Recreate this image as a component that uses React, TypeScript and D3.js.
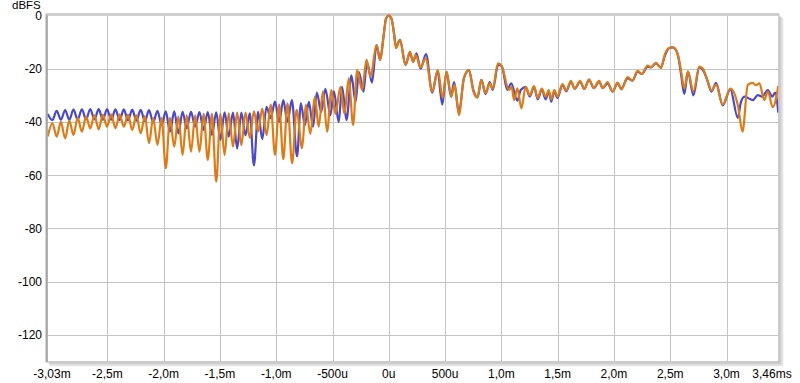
import React from 'react';
import * as d3 from 'd3';

const W = 800;
const H = 383;

const xTickValues = [-3.03, -2.5, -2.0, -1.5, -1.0, -0.5, 0, 0.5, 1.0, 1.5, 2.0, 2.5, 3.0, 3.46];
const xTickLabels = ['-3,03m', '-2,5m', '-2,0m', '-1,5m', '-1,0m', '-500u', '0u', '500u', '1,0m', '1,5m', '2,0m', '2,5m', '3,0m', '3,46ms'];
const yTickValues = [0, -20, -40, -60, -80, -100, -120];
const yTickLabels = ['0', '-20', '-40', '-60', '-80', '-100', '-120'];

// shared time grid (ms) of the regular ripple on the left side
const gridTimes = [
  -3.030, -2.988, -2.950, -2.913, -2.875, -2.838, -2.801, -2.764, -2.726, -2.689,
  -2.652, -2.615, -2.577, -2.540, -2.503, -2.466, -2.428, -2.391, -2.354, -2.317,
  -2.279, -2.242, -2.204, -2.167, -2.130, -2.093, -2.055, -2.018, -1.981, -1.944,
  -1.906, -1.869, -1.832, -1.795, -1.757, -1.720, -1.682, -1.645, -1.608, -1.571,
  -1.533, -1.496, -1.459, -1.422, -1.384, -1.347, -1.310, -1.273, -1.235, -1.198,
  -1.161, -1.124, -1.086, -1.049, -1.011, -0.974, -0.937, -0.900,
];

const blueGridDb = [
  -37.0, -39.3, -35.8, -39.2, -35.6, -39.2, -35.4, -39.1, -35.3, -39.1,
  -35.2, -39.1, -35.2, -39.2, -35.2, -39.2, -35.3, -39.3, -35.3, -39.4,
  -35.4, -39.5, -35.5, -39.7, -35.6, -40.2, -35.8, -41.2, -36.0, -43.7,
  -36.0, -44.3, -36.2, -42.4, -36.2, -41.8, -36.3, -43.0, -36.3, -44.9,
  -36.4, -46.8, -36.4, -45.5, -36.5, -50.0, -36.5, -45.0, -36.8, -56.4,
  -36.2, -46.5, -34.3, -38.6, -32.4, -40.0, -31.8, -40.0,
];

const orangeGridDb = [
  -45.5, -40.5, -45.5, -40.0, -46.2, -39.5, -44.9, -38.5, -43.7, -38.0,
  -42.4, -37.5, -42.8, -37.3, -41.8, -37.2, -42.4, -37.2, -41.8, -37.3,
  -43.0, -37.5, -44.3, -37.8, -48.0, -38.5, -48.7, -38.5, -57.4, -38.5,
  -49.3, -38.0, -52.4, -37.5, -51.2, -37.5, -51.2, -37.0, -54.3, -37.0,
  -62.5, -37.0, -52.4, -36.8, -49.3, -36.5, -48.7, -36.5, -46.0, -36.0,
  -43.7, -35.0, -45.0, -33.5, -52.4, -33.5, -54.0, -33.0,
];

const blueTailTimes = [
  -0.861, -0.815, -0.781, -0.746, -0.710, -0.673, -0.639, -0.601, -0.563, -0.519,
  -0.488, -0.445, -0.415, -0.376, -0.332, -0.296, -0.265, -0.225, -0.194, -0.149,
  -0.109, -0.078, -0.047, -0.025, 0.000, 0.024, 0.044, 0.064,
  0.100, 0.149, 0.187, 0.217, 0.246, 0.282, 0.331, 0.386, 0.433, 0.475,
  0.513, 0.553, 0.580, 0.623, 0.667, 0.712, 0.751, 0.789, 0.822, 0.860,
  0.896, 0.923, 0.972, 1.003, 1.053, 1.087, 1.142, 1.172,
  1.216, 1.252, 1.290, 1.323, 1.359, 1.394, 1.421, 1.443, 1.470, 1.498,
  1.543, 1.577, 1.617, 1.652, 1.699, 1.737, 1.779, 1.821, 1.868, 1.901,
  1.943, 1.988, 2.032, 2.066, 2.121, 2.164, 2.210, 2.248, 2.299, 2.328,
  2.373, 2.417, 2.453, 2.488, 2.524, 2.566, 2.595, 2.625, 2.657, 2.706,
  2.758, 2.791, 2.827, 2.867, 2.907, 2.966, 3.034, 3.100, 3.129, 3.160,
  3.191, 3.233, 3.278, 3.316, 3.367, 3.405, 3.432, 3.460,
];

const blueTailDb = [
  -31.8, -53.0, -33.0, -41.2, -32.5, -41.8, -29.0, -36.2, -27.6, -37.5,
  -28.5, -40.0, -26.8, -39.3, -22.5, -32.5, -21.3, -28.6, -17.6, -25.2,
  -11.1, -16.7, -8.0, -1.2, 0.0, -1.2, -6.0, -11.7,
  -9.2, -18.6, -14.0, -17.4, -14.2, -20.0, -14.5, -29.0, -20.8, -33.5,
  -21.3, -30.5, -25.0, -36.5, -23.6, -20.5, -28.0, -30.8, -24.2, -29.5,
  -25.0, -28.0, -18.5, -19.0, -28.0, -25.5, -32.0, -28.0,
  -26.8, -30.5, -26.8, -31.5, -27.8, -31.5, -28.5, -32.4, -28.5, -31.0,
  -26.1, -28.5, -24.9, -27.5, -24.9, -27.6, -24.2, -27.3, -24.9, -27.3,
  -25.5, -28.6, -25.5, -27.5, -23.6, -24.5, -21.1, -22.0, -19.2, -19.5,
  -18.0, -19.5, -15.0, -12.3, -12.0, -14.5, -21.7, -29.5, -21.1, -30.0,
  -19.5, -20.5, -24.0, -28.6, -25.3, -33.8, -27.8, -38.5, -32.4, -30.5,
  -31.0, -31.8, -29.9, -30.5, -28.0, -30.5, -29.0, -36.5,
];

const orangeTailTimes = [
  -0.859, -0.819, -0.770, -0.737, -0.697, -0.657, -0.623, -0.585, -0.548, -0.510,
  -0.474, -0.430, -0.394, -0.356, -0.317, -0.281, -0.237, -0.198, -0.163, -0.109,
  -0.074, -0.047, -0.025, 0.000, 0.024, 0.044, 0.064,
  0.098, 0.149, 0.187, 0.217, 0.238, 0.282, 0.327, 0.386, 0.436, 0.478,
  0.513, 0.555, 0.585, 0.623, 0.667, 0.712, 0.751, 0.786, 0.822, 0.860,
  0.896, 0.923, 0.970, 1.003, 1.068, 1.092, 1.112, 1.142, 1.178,
  1.216, 1.252, 1.290, 1.323, 1.359, 1.394, 1.421, 1.443, 1.470, 1.498,
  1.543, 1.577, 1.617, 1.652, 1.699, 1.737, 1.779, 1.821, 1.868, 1.901,
  1.943, 1.988, 2.032, 2.066, 2.121, 2.164, 2.210, 2.248, 2.299, 2.328,
  2.373, 2.417, 2.453, 2.488, 2.524, 2.566, 2.595, 2.625, 2.657, 2.706,
  2.758, 2.791, 2.827, 2.867, 2.907, 2.966, 3.034, 3.102, 3.142, 3.189,
  3.233, 3.262, 3.292, 3.336, 3.367, 3.411, 3.460,
];

const orangeTailDb = [
  -55.6, -35.5, -49.9, -33.5, -44.5, -30.5, -41.8, -28.5, -43.7, -28.0,
  -37.0, -26.8, -37.0, -23.6, -41.2, -20.5, -28.0, -16.7, -23.0, -11.1,
  -16.7, -8.0, -1.2, 0.0, -1.2, -6.0, -12.3,
  -9.2, -18.6, -13.6, -17.4, -14.8, -19.5, -16.1, -28.6, -20.5, -31.0,
  -21.1, -30.5, -26.0, -37.4, -23.6, -20.5, -28.5, -30.8, -24.2, -29.2,
  -25.5, -27.5, -18.0, -19.0, -28.0, -26.8, -31.8, -27.4, -34.9,
  -26.8, -30.0, -26.5, -31.0, -27.5, -30.5, -28.0, -31.5, -28.0, -30.5,
  -25.8, -28.2, -24.6, -27.5, -24.6, -27.6, -24.0, -27.3, -24.6, -27.3,
  -25.0, -28.6, -25.2, -27.8, -23.2, -24.5, -20.8, -22.0, -18.8, -19.5,
  -17.8, -19.8, -14.5, -12.2, -12.0, -14.5, -20.5, -27.5, -21.0, -28.5,
  -19.2, -20.0, -24.0, -28.2, -26.0, -33.5, -27.5, -34.0, -43.7, -26.1,
  -25.3, -26.2, -25.5, -31.8, -28.6, -34.5, -26.5,
];

const blueTimes = gridTimes.concat(blueTailTimes);
const blueDb = blueGridDb.concat(blueTailDb);
const orangeTimes = gridTimes.concat(orangeTailTimes);
const orangeDb = orangeGridDb.concat(orangeTailDb);

const PL = 47.7;
const PR = 778.3;
const PT = 15.5;
const PB = 361.3;

export default function App() {
  const x = d3.scaleLinear().domain([-3.03, 3.46]).range([PL, PR]);
  const y = d3.scaleLinear().domain([0, -130]).range([PT, PB]);

  const line = d3
    .line<[number, number]>()
    .x((d) => x(d[0]))
    .y((d) => y(d[1]))
    .curve(d3.curveMonotoneX);

  const bluePts: [number, number][] = blueTimes.map((t, i) => [t, blueDb[i]]);
  const orangePts: [number, number][] = orangeTimes.map((t, i) => [t, orangeDb[i]]);

  const font = "'Liberation Sans', Arial, sans-serif";

  return (
    <svg width={W} height={H} style={{ position: 'absolute', left: 0, top: 0, background: '#fff' }}>
      <rect x={0} y={0} width={W} height={H} fill="#ffffff" />
      {/* shadow right & bottom */}
      <rect x={PL + 2} y={PT + 2} width={PR - PL + 3} height={PB - PT + 3} fill="#e4e4e4" />
      <rect x={PL + 1} y={PT + 1} width={PR - PL + 2} height={PB - PT + 2} fill="#cfcfcf" />
      <rect x={PL - 2} y={PT - 2} width={PR - PL + 3} height={PB - PT + 3} fill="#b9b9b9" />
      <rect x={PL} y={PT} width={PR - PL} height={PB - PT} fill="#ffffff" />
      {/* grid */}
      {xTickValues.slice(1, -1).map((v, i) => (
        <line key={'gx' + i} x1={Math.round(x(v)) + 0.5} x2={Math.round(x(v)) + 0.5} y1={PT} y2={PB} stroke="#c4c4c4" strokeWidth={1} />
      ))}
      {yTickValues.slice(1).map((v, i) => (
        <line key={'gy' + i} x1={PL} x2={PR} y1={Math.round(y(v)) + 0.5} y2={Math.round(y(v)) + 0.5} stroke="#c4c4c4" strokeWidth={1} />
      ))}
      <line x1={PL - 1} x2={PL - 1} y1={PT - 1} y2={PB + 1} stroke="#a6a6a6" strokeWidth={2} />
      <line x1={PL - 1} x2={PR + 1} y1={PT - 1} y2={PT - 1} stroke="#c8c8c8" strokeWidth={2} />
      <defs>
        <clipPath id="plotclip">
          <rect x={PL} y={PT - 2} width={PR - PL} height={PB - PT + 2} />
        </clipPath>
      </defs>
      <g clipPath="url(#plotclip)">
        <path d={line(bluePts) || ''} fill="none" stroke="#4848d0" strokeWidth={2.2} strokeLinejoin="round" />
        <path d={line(orangePts) || ''} fill="none" stroke="#e27a12" strokeWidth={2.2} strokeLinejoin="round" />
      </g>
      {/* y labels */}
      {yTickValues.map((v, i) => (
        <text key={'yl' + i} x={42} y={y(v) + 4.5} textAnchor="end" fontFamily={font} fontSize={12} fill="#000">
          {yTickLabels[i]}
        </text>
      ))}
      <text x={12} y={8.5} fontFamily={font} fontSize={11.5} fill="#000">dBFS</text>
      {/* x labels */}
      {xTickValues.map((v, i) => {
        let px = x(v);
        if (i === 0) px = 52;
        if (i === xTickValues.length - 1) px = 772;
        return (
          <text key={'xl' + i} x={px} y={378} textAnchor="middle" fontFamily={font} fontSize={12} fill="#000">
            {xTickLabels[i]}
          </text>
        );
      })}
    </svg>
  );
}
